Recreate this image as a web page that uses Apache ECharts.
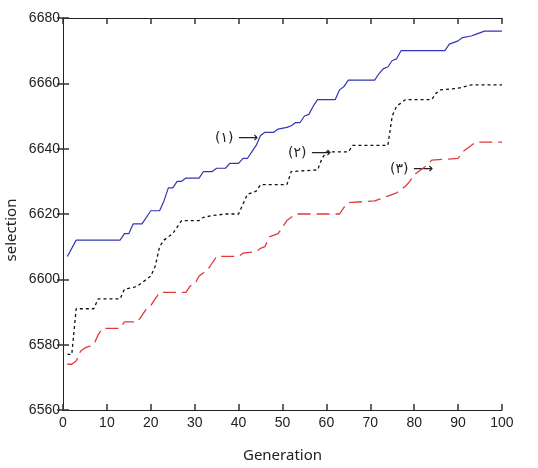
<!DOCTYPE html>
<html lang="en">
<head>
    <meta charset="UTF-8">
    <title>selection vs generation</title>
    <script src="https://cdn.jsdelivr.net/npm/echarts@6/dist/echarts.min.js"></script>
</head>
<body style="margin:0">
<div id="main" style="width: 538px;height:468px;"></div>
<script type="text/javascript">
    // curve (1) - solid blue
    var gen1 = [1, 3, 13, 14, 15, 16, 18, 20, 22, 23, 24, 25, 26, 27, 28, 31, 32, 34, 35, 37, 38, 40, 41, 42, 43, 44, 45, 46, 48, 49, 51, 52, 53, 54, 55, 56, 57, 58, 62, 63, 64, 65, 71, 72, 73, 74, 75, 76, 77, 87, 88, 90, 91, 93, 94, 96, 100];
    var val1 = [6607, 6612, 6612, 6614, 6614, 6617, 6617, 6621, 6621, 6624, 6628, 6628, 6630, 6630, 6631, 6631, 6633, 6633, 6634, 6634, 6635.5, 6635.5, 6637, 6637, 6639, 6641, 6644, 6645, 6645, 6646, 6646.5, 6647, 6648, 6648, 6650, 6650.5, 6653, 6655, 6655, 6658, 6659, 6661, 6661, 6663, 6664.5, 6665, 6667, 6667.5, 6670, 6670, 6672, 6673, 6674, 6674.5, 6675, 6676, 6676];
    // curve (2) - black dotted
    var gen2 = [1, 2, 3, 7, 8, 13, 14, 16, 17, 18, 19, 20, 21, 22, 23, 25, 26, 27, 31, 32, 34, 37, 40, 41, 42, 44, 45, 51, 52, 58, 59, 60, 65, 66, 74, 75, 76, 78, 84, 85, 86, 90, 93, 100];
    var val2 = [6577, 6577, 6591, 6591, 6594, 6594, 6597, 6597.5, 6598, 6599, 6600, 6601, 6604, 6610, 6612, 6614, 6616, 6618, 6618, 6619, 6619.5, 6620, 6620, 6623, 6626, 6627, 6629, 6629, 6633, 6633.5, 6637, 6639, 6639, 6641, 6641, 6650, 6653, 6655, 6655, 6657, 6658, 6658.5, 6659.5, 6659.5];
    // curve (3) - red dashed
    var gen3 = [1, 2, 3, 4, 5, 6, 7, 8, 9, 13, 14, 17, 18, 19, 20, 21, 22, 28, 29, 30, 31, 32, 33, 34, 35, 40, 41, 44, 45, 46, 47, 49, 50, 51, 52, 53, 63, 64, 65, 71, 72, 74, 76, 77, 78, 79, 80, 82, 83, 84, 90, 91, 92, 93, 94, 100];
    var val3 = [6574, 6574, 6575, 6578, 6579, 6579.5, 6580, 6583, 6585, 6585, 6587, 6587, 6589, 6591, 6592, 6594, 6596, 6596, 6598, 6598.5, 6601, 6602, 6603, 6605, 6607, 6607, 6608, 6608.5, 6609.5, 6610, 6613, 6614, 6616, 6618, 6619, 6620, 6620, 6622, 6623.5, 6624, 6624.5, 6625.5, 6626.5, 6627.5, 6628.5, 6630, 6632, 6634, 6635, 6636.5, 6637, 6639, 6640, 6641, 6642, 6642];

    var labels = ['(١) ⟶', '(٢) ⟶', '(٣) ⟶'];

    function zip(g, v) {
        var out = [];
        for (var i = 0; i < g.length; i++) out.push([g[i], v[i]]);
        return out;
    }

    var myChart = echarts.init(document.getElementById('main'));

    var axisColor = '#222';
    var tickFont = {color: '#222', fontSize: 14, fontFamily: 'Liberation Sans'};
    var hiddenLabel = {color: 'rgba(0,0,0,0)', fontSize: 10};
    var noSplit = {show: true, lineStyle: {color: 'rgba(0,0,0,0)'}};

    function tick() {
        return {show: true, inside: true, length: 6, lineStyle: {color: '#333', width: 1.5}};
    }

    option = {
        backgroundColor: '#fff',
        animation: false,
        grid: {left: 63, right: 11, top: 14, bottom: 50},
        xAxis: [{
            type: 'value', min: 0, max: 100, interval: 10,
            name: 'Generation', nameLocation: 'middle', nameGap: 38,
            nameTextStyle: {color: '#222', fontSize: 15, fontFamily: 'Noto Sans'},
            axisLine: {show: true, lineStyle: {color: axisColor}},
            axisTick: tick(),
            axisLabel: Object.assign({margin: 6}, tickFont),
            splitLine: noSplit
        }, {
            type: 'value', min: 0, max: 100, interval: 10, position: 'top',
            axisLine: {show: true, lineStyle: {color: axisColor}},
            axisTick: tick(),
            axisLabel: hiddenLabel,
            splitLine: noSplit
        }],
        yAxis: [{
            type: 'value', min: 6560, max: 6680, interval: 20,
            axisLine: {show: true, lineStyle: {color: axisColor}},
            axisTick: tick(),
            axisLabel: Object.assign({margin: 3, formatter: function (v) { return String(v); }}, tickFont),
            splitLine: noSplit
        }, {
            type: 'value', min: 6560, max: 6680, interval: 20, position: 'right',
            axisLine: {show: true, lineStyle: {color: axisColor}},
            axisTick: tick(),
            axisLabel: hiddenLabel,
            splitLine: noSplit
        }],
        graphic: [{
            type: 'text', x: 12, y: 230, rotation: Math.PI / 2,
            style: {text: 'selection', fill: '#222', font: '15px "Noto Sans"', align: 'center', verticalAlign: 'middle'}
        }, {
            type: 'text', x: 215, y: 138,
            style: {text: labels[0], fill: '#222', font: '14px "DejaVu Sans"', verticalAlign: 'middle'}
        }, {
            type: 'text', x: 288, y: 153,
            style: {text: labels[1], fill: '#222', font: '14px "DejaVu Sans"', verticalAlign: 'middle'}
        }, {
            type: 'text', x: 390, y: 169,
            style: {text: labels[2], fill: '#222', font: '14px "DejaVu Sans"', verticalAlign: 'middle'}
        }],
        series: [{
            type: 'line', data: zip(gen1, val1), showSymbol: false,
            lineStyle: {color: '#3535b5', width: 1.2}
        }, {
            type: 'line', data: zip(gen2, val2), showSymbol: false,
            lineStyle: {color: '#111', width: 1.3, type: [3, 3]}
        }, {
            type: 'line', data: zip(gen3, val3), showSymbol: false,
            lineStyle: {color: '#e03a3a', width: 1.3, type: [13, 6]}
        }]
    };

    myChart.setOption(option);
</script>
</body>
</html>
